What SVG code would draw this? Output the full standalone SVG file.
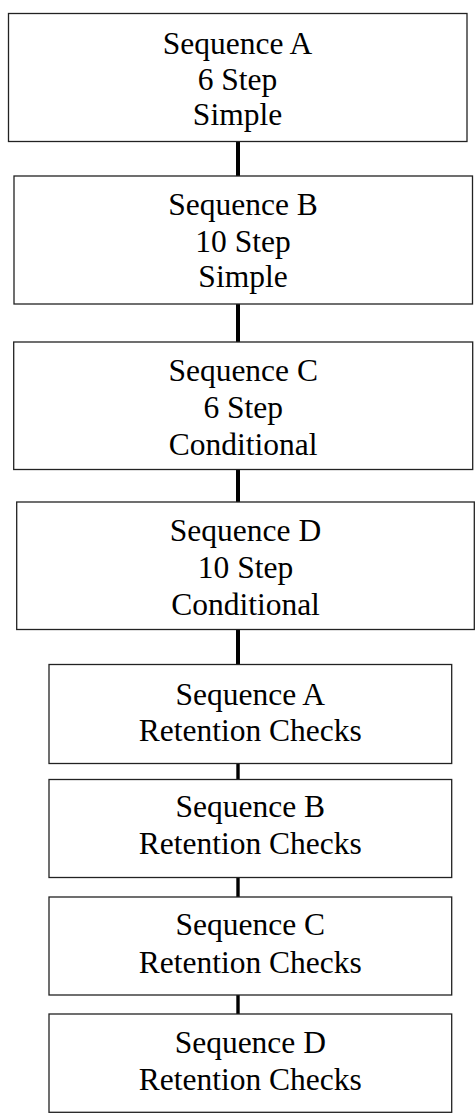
<svg xmlns="http://www.w3.org/2000/svg" width="475" height="1120" viewBox="0 0 475 1120">
  <style>
    .box { fill: #ffffff; stroke: #222222; stroke-width: 1.3; }
    .lbl { font-family: "Liberation Serif", "Times New Roman", serif; font-size: 31.5px; fill: #000000; text-anchor: middle; }
    .link { stroke: #000000; stroke-width: 4; fill: none; }
    .link-thin { stroke: #000000; stroke-width: 3.4; fill: none; }
  </style>
  <rect width="475" height="1120" fill="#ffffff"/>

  <!-- vertical links between consecutive stages -->
  <g id="connectors">
    <line class="link" x1="238" y1="141.5" x2="238" y2="176"/>
    <line class="link" x1="238" y1="304" x2="238" y2="342"/>
    <line class="link" x1="238" y1="469.5" x2="238" y2="502"/>
    <line class="link" x1="238" y1="629.5" x2="238" y2="664.5"/>
    <line class="link-thin" x1="238" y1="763.5" x2="238" y2="779.5"/>
    <line class="link-thin" x1="238" y1="877.5" x2="238" y2="897"/>
    <line class="link-thin" x1="238" y1="995" x2="238" y2="1014"/>
  </g>

  <g id="seqA">
    <rect class="box" x="8.5" y="13.5" width="458.5" height="128"/>
    <text class="lbl" x="237.5" y="53.5">Sequence A</text>
    <text class="lbl" x="237.5" y="89.5">6 Step</text>
    <text class="lbl" x="237.5" y="125">Simple</text>
  </g>

  <g id="seqB">
    <rect class="box" x="14" y="176" width="458.5" height="128"/>
    <text class="lbl" x="243" y="215">Sequence B</text>
    <text class="lbl" x="243" y="251.5">10 Step</text>
    <text class="lbl" x="243" y="287">Simple</text>
  </g>

  <g id="seqC">
    <rect class="box" x="13.7" y="342" width="459" height="127.5"/>
    <text class="lbl" x="243.2" y="381">Sequence C</text>
    <text class="lbl" x="243.2" y="418">6 Step</text>
    <text class="lbl" x="243.2" y="455">Conditional</text>
  </g>

  <g id="seqD">
    <rect class="box" x="16.7" y="502" width="457.6" height="127.5"/>
    <text class="lbl" x="245.5" y="541">Sequence D</text>
    <text class="lbl" x="245.5" y="578">10 Step</text>
    <text class="lbl" x="245.5" y="615">Conditional</text>
  </g>

  <g id="retA">
    <rect class="box" x="49" y="664.5" width="402.7" height="99"/>
    <text class="lbl" x="250.3" y="705">Sequence A</text>
    <text class="lbl" x="250.3" y="740.5">Retention Checks</text>
  </g>

  <g id="retB">
    <rect class="box" x="49" y="779.5" width="402.7" height="98"/>
    <text class="lbl" x="250.3" y="817">Sequence B</text>
    <text class="lbl" x="250.3" y="853.5">Retention Checks</text>
  </g>

  <g id="retC">
    <rect class="box" x="49" y="897" width="402.7" height="98"/>
    <text class="lbl" x="250.3" y="935">Sequence C</text>
    <text class="lbl" x="250.3" y="973">Retention Checks</text>
  </g>

  <g id="retD">
    <rect class="box" x="49" y="1014" width="402.7" height="98.3"/>
    <text class="lbl" x="250.3" y="1052.5">Sequence D</text>
    <text class="lbl" x="250.3" y="1090">Retention Checks</text>
  </g>
</svg>
